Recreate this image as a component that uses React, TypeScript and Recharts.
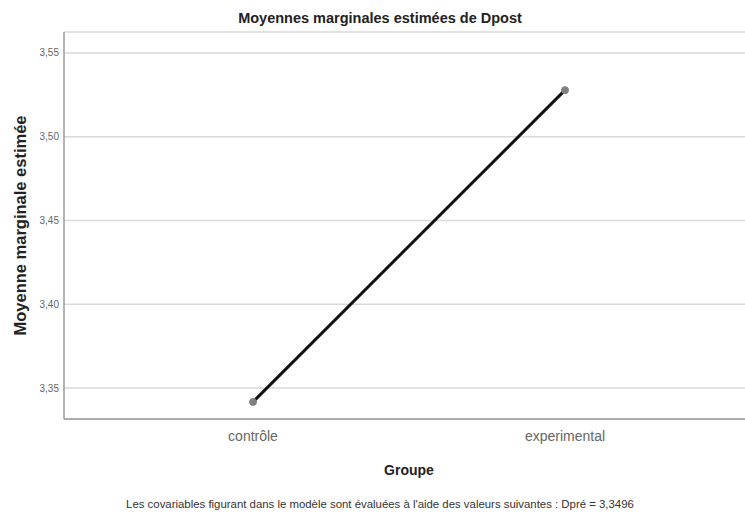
import { LineChart, Line, XAxis, YAxis, CartesianGrid } from "recharts"

// catégories et moyennes estimées (lecture du graphique)
const groupes = ["contrôle", "experimental"]
const moyennes = [3.3417, 3.5278]
const yTicks = [3.35, 3.4, 3.45, 3.5, 3.55]
const yDomain = [3.3315, 3.5625]

const titre = "Moyennes marginales estimées de Dpost"
const note = "Les covariables figurant dans le modèle sont évaluées à l'aide des valeurs suivantes : Dpré = 3,3496"

const font = "'Liberation Sans', Arial, sans-serif"

export default function App() {
  const data = groupes.map((g, i) => ({ groupe: g, moyenne: moyennes[i] }))

  return (
    <div style={{ position: "absolute", left: 0, top: 0, width: 745, height: 518, background: "#fff", fontFamily: font }}>
      <div style={{ position: "absolute", left: 0, top: 10, width: 760, textAlign: "center", fontSize: 14.5, fontWeight: "bold", color: "#222" }}>
        {titre}
      </div>
      <LineChart width={745} height={518} data={data} margin={{ top: 32, right: 0, bottom: 0, left: 0 }}>
        <CartesianGrid vertical={false} stroke="#d9d9d9" strokeWidth={1.5} />
        <XAxis
          dataKey="groupe"
          type="category"
          scale="point"
          padding={{ left: 189, right: 180 }}
          tickLine={false}
          axisLine={{ stroke: "#9a9a9a", strokeWidth: 1.5 }}
          tick={{ fontSize: 14, fill: "#666", fontFamily: font }}
          tickSize={0}
          tickMargin={12}
          height={99}
        />
        <YAxis
          type="number"
          domain={yDomain}
          ticks={yTicks}
          allowDataOverflow
          width={64}
          tickLine={false}
          tickSize={0}
          tickMargin={5}
          axisLine={{ stroke: "#9a9a9a", strokeWidth: 1.5 }}
          tick={{ fontSize: 10, fill: "#666", fontFamily: font }}
          tickFormatter={(v: number) => v.toFixed(2).replace(".", ",")}
          label={{
            value: "Moyenne marginale estimée",
            angle: -90,
            position: "center",
            dx: -12,
            style: { fontSize: 16.5, fontWeight: "bold", fill: "#222", fontFamily: font },
          }}
        />
        <Line
          type="linear"
          dataKey="moyenne"
          stroke="#111"
          strokeWidth={3}
          dot={{ r: 3.5, fill: "#808080", stroke: "#808080", strokeWidth: 1 }}
          isAnimationActive={false}
        />
      </LineChart>
      <div style={{ position: "absolute", left: 0, top: 462, width: 818, textAlign: "center", fontSize: 14, fontWeight: "bold", color: "#222" }}>
        Groupe
      </div>
      <div style={{ position: "absolute", left: 0, top: 498, width: 760, textAlign: "center", fontSize: 11.4, color: "#333" }}>
        {note}
      </div>
    </div>
  )
}
